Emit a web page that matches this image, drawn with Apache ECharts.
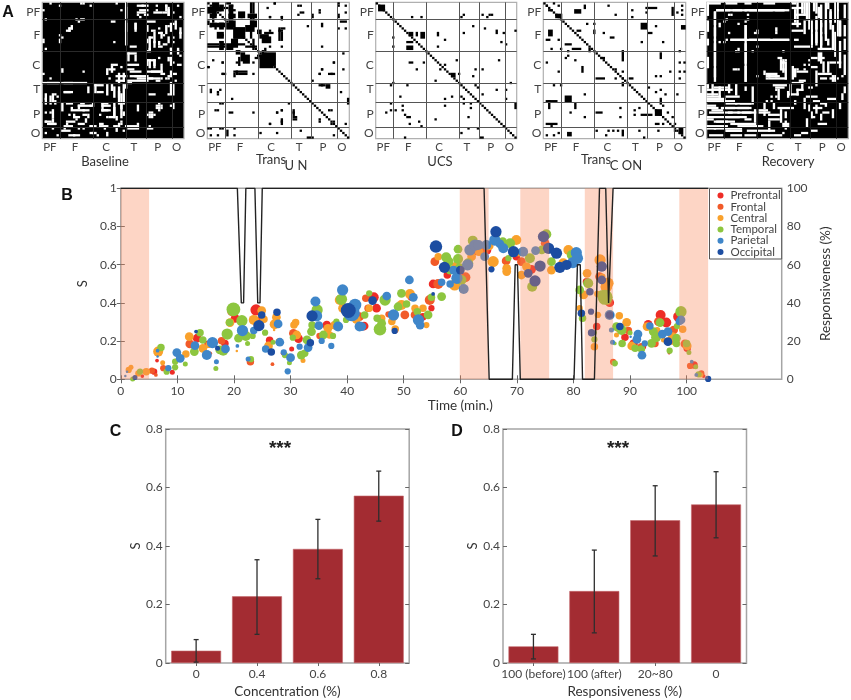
<!DOCTYPE html>
<html>
<head>
<meta charset="utf-8">
<script src="https://cdn.jsdelivr.net/npm/echarts@6/dist/echarts.min.js"></script>
<style>html,body{margin:0;padding:0;background:#fff}#main{width:851px;height:700px}</style>
</head>
<body>
<div id="main"></div>
<script>
// --- panel A: adjacency matrices, each entry is [rowFrom, rowTo, colFrom, colTo]
const baselineRuns = [[0,0,3,3],[1,1,7,7],[0,0,17,17],[1,1,20,20],[0,0,31,31],[2,7,35,35],[9,12,35,35],[1,1,42,42],[1,1,48,48],[1,1,52,52],[1,1,57,57],[3,3,41,44],[3,3,48,48],[4,4,51,52],[4,4,55,55],[3,3,33,33],[5,5,40,40],[5,5,43,44],[3,5,53,53],[6,6,58,58],[7,7,14,14],[7,7,16,17],[8,8,29,30],[11,11,11,12],[12,12,10,11],[15,15,8,8],[16,16,0,0],[17,17,30,30],[9,11,39,39],[10,12,44,44],[12,12,46,47],[11,11,49,49],[13,13,49,50],[10,10,53,53],[10,13,52,52],[11,13,58,58],[9,9,55,55],[14,14,51,51],[15,15,45,46],[16,17,44,44],[17,17,47,47],[18,18,51,52],[17,17,55,55],[19,19,37,39],[20,20,45,45],[19,19,49,50],[20,20,54,54],[21,21,57,57],[21,21,44,45],[22,22,36,39],[22,25,36,36],[23,25,39,39],[24,24,49,49],[23,23,58,58],[25,25,44,47],[25,27,44,44],[25,27,47,47],[24,25,53,53],[27,27,36,40],[27,27,50,50],[26,26,55,55],[28,28,33,33],[29,29,28,30],[27,27,29,31],[29,29,36,38],[30,30,37,41],[30,30,44,49],[31,31,50,51],[31,31,55,56],[32,32,31,35],[32,32,39,44],[33,33,40,46],[33,33,50,50],[33,33,52,52],[32,32,53,54],[34,34,31,34],[34,34,48,49],[34,34,56,56],[35,35,36,37],[36,40,55,55],[45,45,49,49],[46,46,48,48],[46,46,50,50],[47,47,49,49],[48,48,45,45],[49,49,44,44],[49,49,46,46],[50,50,45,45],[45,47,40,40],[36,44,34,34],[37,41,32,32],[44,49,33,33],[46,50,30,30],[54,54,35,40],[54,54,45,45],[55,55,44,46],[53,53,40,40],[35,35,0,6],[35,35,8,18],[39,39,9,12],[41,41,6,6],[40,44,1,1],[40,43,4,4],[44,47,8,8],[47,50,4,4],[45,45,15,20],[47,47,13,19],[45,45,25,28],[47,47,25,28],[50,50,13,15],[49,49,17,18],[53,53,2,5],[54,54,9,12],[53,53,15,17],[54,54,20,22],[54,54,24,27],[52,52,1,3],[56,56,8,11],[55,55,15,15],[58,58,13,15],[57,57,20,22],[57,58,27,27],[54,54,30,31],[53,53,33,33],[50,50,28,30]];

const transUnRuns = [[0,2,2,4],[1,3,5,6],[3,5,2,3],[2,2,7,8],[0,0,8,9],[1,1,10,10],[3,3,9,11],[5,6,9,11],[4,6,13,15],[0,4,19,19],[5,6,17,20],[5,7,19,19],[5,6,14,14],[0,0,28,28],[6,6,31,31],[6,6,26,26],[1,1,39,39],[4,4,39,39],[5,5,44,44],[3,3,47,47],[0,0,55,55],[5,5,55,55],[11,15,11,15],[9,11,8,10],[9,10,5,6],[8,10,18,20],[10,12,16,19],[12,13,21,22],[9,10,1,7],[18,18,0,4],[18,18,6,7],[18,18,10,15],[16,20,19,19],[14,15,22,25],[13,13,24,27],[11,16,30,30],[11,11,31,32],[19,19,31,31],[19,19,26,26],[22,27,23,28],[23,26,15,17],[26,26,12,12],[25,25,2,2],[26,26,6,6],[28,28,0,0],[31,31,6,7],[30,31,12,12],[31,31,13,16],[24,24,20,21],[23,23,21,22],[38,38,1,1],[38,38,5,5],[40,40,4,4],[42,42,10,10],[47,47,4,4],[44,44,6,6],[48,48,9,10],[48,48,19,19],[48,48,29,29],[47,47,31,31],[52,52,31,31],[53,53,26,26],[47,49,36,36],[50,50,36,37],[55,55,1,1],[55,55,6,6],[55,55,11,11],[58,58,1,1],[58,58,4,4],[56,58,8,8],[58,58,11,11],[57,57,22,22],[57,57,29,29],[56,56,39,39],[59,59,42,44],[58,58,53,53],[26,26,53,53],[29,29,48,48],[31,31,47,47],[31,31,51,53],[34,34,44,44],[36,36,48,48],[36,37,51,51],[47,47,52,52],[51,51,47,47],[52,52,53,53]];

const ucsRuns = [[1,3,1,3],[6,6,15,15],[6,6,19,19],[6,6,36,36],[5,5,37,37],[5,5,45,45],[6,6,47,47],[5,5,49,49],[5,5,48,48],[10,10,41,41],[11,11,46,46],[12,13,51,51],[13,13,54,54],[12,12,59,59],[13,13,37,37],[13,14,14,15],[13,14,17,17],[13,15,19,20],[13,14,26,26],[16,16,29,29],[19,19,26,26],[15,15,7,7],[19,19,7,7],[17,17,13,15],[19,20,13,15],[17,17,53,53],[18,18,55,55],[26,26,14,15],[29,29,17,17],[26,26,20,20],[25,25,34,34],[27,27,29,29],[29,29,27,27],[25,25,52,52],[29,29,42,42],[29,29,45,45],[34,34,25,25],[31,32,32,33],[32,32,41,41],[31,31,35,35],[36,36,42,42],[37,37,43,43],[35,35,7,7],[36,36,6,6],[36,36,13,13],[41,41,10,10],[40,40,45,45],[38,38,51,51],[38,38,55,55],[35,35,57,57],[42,42,55,55],[44,44,6,6],[47,47,6,6],[48,48,4,4],[47,47,8,8],[45,45,11,11],[47,47,11,11],[49,49,12,12],[50,50,13,14],[52,52,18,18],[54,54,19,19],[53,53,14,14],[51,51,25,25],[42,42,29,29],[41,41,32,32],[45,45,29,29],[41,41,36,36],[42,42,37,37],[44,44,37,37],[44,44,40,40],[46,46,40,40],[44,46,59,59],[50,50,39,39],[55,55,39,39],[55,55,43,43],[57,57,36,36],[59,59,12,12],[59,59,44,45]];

const transConRuns = [[1,1,1,1],[0,0,4,4],[1,1,6,6],[3,3,2,3],[5,6,5,7],[3,4,13,15],[1,2,17,17],[1,1,27,27],[5,5,30,30],[3,3,37,37],[6,6,37,37],[2,2,43,47],[4,4,43,43],[2,5,54,54],[1,1,58,58],[3,3,58,58],[5,5,58,58],[4,4,56,56],[9,9,18,18],[9,9,21,21],[12,13,21,21],[13,13,25,25],[12,12,14,15],[15,15,28,29],[17,17,41,41],[9,11,41,43],[13,13,44,45],[10,10,47,47],[17,17,50,50],[10,11,58,59],[12,14,2,3],[16,16,1,2],[16,16,6,6],[18,18,9,11],[20,20,3,3],[20,20,7,7],[21,21,10,10],[20,20,12,15],[23,23,10,10],[24,24,9,9],[25,25,13,13],[20,21,19,19],[26,26,1,1],[30,30,6,6],[28,30,16,16],[24,24,24,25],[21,25,33,33],[29,29,30,30],[30,30,33,33],[33,33,30,30],[33,33,33,33],[33,33,22,25],[22,24,49,49],[21,21,57,57],[26,26,59,59],[26,26,57,57],[30,30,57,57],[30,30,59,59],[33,33,57,57],[30,30,53,53],[32,32,49,49],[32,32,47,47],[36,36,4,4],[36,36,7,7],[35,36,33,33],[33,33,36,37],[37,37,44,44],[39,39,47,47],[38,38,49,49],[40,40,51,51],[40,40,56,56],[42,44,49,49],[43,43,1,5],[43,46,2,2],[41,43,9,11],[44,46,13,13],[40,40,17,17],[48,48,11,11],[50,50,17,17],[48,48,22,24],[46,46,32,32],[50,50,32,32],[47,47,38,38],[46,46,40,40],[49,49,38,38],[49,49,41,45],[47,49,47,49],[45,45,50,50],[48,48,52,52],[50,50,54,54],[53,53,47,48],[53,53,50,50],[53,53,55,55],[56,56,40,40],[56,56,48,48],[56,56,55,55],[55,57,57,58],[53,53,1,5],[54,54,3,3],[58,58,1,1],[58,58,4,4],[57,57,6,6],[57,58,10,11],[56,56,22,22],[56,56,27,27],[58,58,26,26],[56,56,29,29],[56,56,31,31],[56,58,33,33],[59,59,42,42]];

const recoveryRuns = [[0,0,0,5],[0,0,8,12],[0,0,16,18],[0,0,24,28],[0,0,36,37],[3,3,4,9],[3,3,11,16],[3,3,18,27],[3,3,29,34],[4,14,3,3],[16,32,3,3],[16,16,10,16],[16,16,18,26],[16,16,28,34],[10,34,16,16],[2,2,36,40],[5,5,37,41],[9,9,36,39],[0,4,40,40],[0,7,42,42],[0,3,45,45],[2,6,47,47],[0,2,51,51],[4,8,52,52],[0,3,55,55],[1,6,58,58],[8,12,44,44],[14,18,44,44],[8,18,46,46],[9,13,48,48],[15,18,48,48],[8,16,50,50],[10,20,53,53],[8,14,56,56],[10,14,58,58],[16,20,58,58],[12,12,36,40],[16,16,37,38],[19,19,37,44],[20,20,47,52],[22,25,47,47],[24,24,30,31],[25,30,32,32],[24,24,44,46],[28,28,44,46],[24,24,48,49],[26,30,49,49],[23,31,58,58],[26,26,52,56],[30,30,38,42],[29,32,37,37],[31,31,47,52],[33,33,48,50],[33,33,52,55],[30,36,46,46],[32,34,53,53],[34,34,39,41],[33,33,26,33],[31,31,25,29],[35,38,40,40],[36,40,35,35],[36,36,28,33],[37,37,43,44],[38,40,38,38],[41,41,42,46],[44,46,56,56],[42,42,51,54],[40,42,57,57],[43,43,45,47],[44,44,48,50],[45,48,46,46],[48,48,49,51],[47,50,53,53],[50,50,44,45],[37,37,3,8],[38,38,0,10],[41,41,0,5],[41,41,8,13],[43,43,0,11],[44,44,12,18],[46,46,0,4],[46,46,6,11],[46,46,13,17],[48,48,1,10],[48,48,13,20],[48,48,22,26],[50,50,0,13],[51,51,16,18],[51,51,26,30],[52,52,3,11],[54,54,0,8],[55,55,3,14],[56,56,8,14],[56,56,17,28],[54,54,13,23],[54,54,32,34],[57,57,32,32],[58,58,37,39],[25,25,33,33],[26,26,32,32],[29,29,38,38],[25,25,43,43],[27,27,41,41],[27,27,43,43],[29,29,41,41],[32,32,26,26],[32,32,29,29],[32,32,21,21],[29,29,11,12],[21,21,13,13],[19,19,21,21],[16,16,8,8],[17,17,5,5],[9,9,13,13],[9,9,5,5],[7,7,8,8],[5,5,10,10],[7,7,17,17],[13,13,20,20],[12,12,21,21],[13,13,29,29]];

const matrixSize = 60;
const regionNames = ["PF", "F", "C", "T", "P", "O"];
const regionBreaks = [7.5, 21.5, 35.5, 44, 55];
const xRegionCentres = [3.2, 13.8, 27, 38.8, 48.9, 56.9];
const yRegionCentres = [4.5, 14.4, 27.6, 38, 49.3, 57.4];

// --- panel B: [time, S, dot size]
const prefrontal = [[3.8,.017,3],[5.9,.04,5],[6.4,.098,3],[9.1,.037,4],[13.5,.215,7],[15.3,.185,5],[18.4,.188,6],[20.2,.319,7],[23.9,.363,9],[26.3,.204,6],[28.6,.136,3],[30.2,.159,4],[31.4,.213,7],[36.4,.284,7],[43,.279,7],[44.7,.429,8],[45.2,.372,7],[48.7,.253,3],[51.4,.433,7],[53.4,.328,6],[54.9,.372,5],[55.2,.499,7],[57.7,.546,6],[62.9,.672,7],[64.6,.677,8],[69.9,.642,6],[72.6,.576,7],[82.3,.511,6],[84.1,.276,6],[86.4,.401,7],[89.1,.22,6],[90.6,.185,7],[92.3,.171,5],[93.2,.288,7],[95.4,.337,8],[96.4,.297,8],[96.9,.136,2],[98.5,.328,8],[100.1,.162,6],[101.3,.075,6],[103,.017,3]];
const frontal = [[5.5,.045,5],[6.2,.023,3],[7.5,.058,5],[12.2,.185,7],[15.8,.136,3],[17.8,.202,6],[19.6,.354,7],[22.9,.092,6],[24.6,.311,6],[26.8,.079,3],[29.3,.122,3],[30.5,.241,7],[35.1,.227,5],[42.2,.328,7],[43.3,.424,6],[43.7,.372,6],[47.3,.34,5],[50.2,.337,7],[52,.337,7],[54.6,.415,8],[55.5,.616,7],[56.1,.499,8],[60.9,.534,8],[64.2,.674,7],[68.1,.62,7],[70.8,.616,7],[75,.712,7],[84.6,.538,7],[86.1,.407,6],[87,.091,5],[89.7,.255,6],[91.4,.162,4],[92,.171,6],[94.4,.188,6],[95,.302,7],[97.7,.258,7],[99.7,.185,7],[100.6,.07,5],[102.6,.031,5]];
const central = [[1.4,.049,5],[1.8,.063,4],[3.1,.031,5],[4.5,.04,6],[6.6,.145,8],[7.4,.087,4],[11.5,.133,6],[12.1,.223,7],[14.5,.162,7],[15.5,.18,5],[19.3,.297,7],[20.5,.148,2],[21.9,.241,6],[23.5,.311,8],[24.9,.36,7],[25.3,.314,6],[26.1,.175,7],[27.1,.258,2],[27.2,.288,8],[27.5,.325,7],[28,.197,6],[30.6,.284,6],[30.9,.297,6],[31.1,.232,7],[32.2,.098,4],[36.6,.267,7],[36.9,.232,6],[37.8,.284,7],[38.7,.415,8],[39.3,.372,8],[41.6,.314,7],[43.9,.372,6],[46.1,.319,6],[48.2,.325,6],[47.9,.302,6],[48.5,.264,6],[49.6,.389,8],[51.1,.447,8],[52,.372,6],[53.4,.372,6],[54,.284,5],[56.1,.642,6],[59,.494,9],[59.3,.59,8],[62,.642,7],[63.3,.668,7],[65.1,.698,7],[65.8,.616,9],[68.2,.581,7],[68.2,.564,7],[69.9,.729,8],[70.4,.663,6],[70.8,.546,7],[71.7,.59,7],[76.1,.572,7],[78.2,.607,8],[79.1,.677,8],[82.4,.555,7],[81.8,.442,7],[84.7,.625,8],[85.6,.511,5],[85.8,.485,9],[84.2,.447,5],[81.1,.372,5],[84.3,.337,5],[83.7,.171,6],[84.7,.625,9],[85.1,.538,5],[86.1,.503,9],[85.8,.485,9],[88.1,.333,6],[84.7,.337,2],[87.6,.232,4],[87.9,.267,6],[89.4,.298,7],[90.3,.175,7],[93,.276,7],[94.8,.258,5],[95.9,.206,4],[97.3,.197,5],[97.5,.223,7],[99.3,.262,6],[100.1,.175,7],[102.5,.023,4]];
const temporal = [[2.1,.002,4],[3.4,.04,5],[7.1,.166,6],[8.1,.04,5],[9.6,.063,5],[9.6,.092,5],[11.4,.08,4],[13,.145,7],[14,.244,6],[14.5,.206,6],[16.8,.056,4],[17.5,.154,7],[18.1,.15,8],[18.8,.237,9],[19.9,.366,11],[19.2,.297,6],[20.8,.215,7],[21.4,.307,9],[22.1,.227,8],[22.4,.188,4],[23,.105,5],[23.3,.227,5],[25.5,.244,5],[26.9,.194,4],[29,.127,5],[29.8,.087,4],[30.4,.218,5],[31.9,.127,7],[32.5,.136,6],[32.9,.206,7],[33.7,.25,7],[33.8,.284,6],[34.7,.363,9],[35.8,.232,7],[37.5,.227,5],[38.1,.302,5],[39,.419,9],[39.8,.311,5],[43.9,.45,5],[43.1,.337,6],[45.3,.319,6],[45.8,.262,10],[46.1,.293,7],[46.7,.415,9],[49,.38,7],[49.6,.45,7],[50.5,.394,6],[52.4,.354,6],[54.3,.337,7],[54.9,.429,6],[56.7,.433,7],[57.5,.639,8],[57.9,.616,8],[58.2,.572,7],[59.6,.681,7],[59.6,.63,8],[59.9,.581,8],[60.2,.52,8],[61.4,.607,8],[62.2,.726,8],[66.5,.764,6],[67.5,.721,7],[68.8,.712,8],[68.5,.634,5],[72.3,.634,8],[72.7,.485,8],[74.4,.677,7],[75.2,.759,8],[76.1,.616,7],[79.7,.651,8],[82.6,.503,8],[81.1,.468,7],[85,.447,6],[85.6,.424,9],[81.6,.319,6],[83.7,.244,4],[83.7,.209,5],[85.6,.429,12],[87.3,.188,3],[87.3,.084,5],[87.6,.276,7],[88.5,.258,8],[88.6,.188,6],[90,.244,4],[90.9,.162,6],[92,.159,6],[93.8,.188,7],[94.1,.25,7],[94.6,.22,8],[95.3,.297,7],[98.2,.215,7],[98.2,.188,6],[98.3,.279,5],[97,.15,5],[99,.354,9],[100,.188,6],[100.4,.14,4],[101.6,.066,4],[102.1,.026,5]];
const parietal = [[1.1,.04,2],[.8,.017,2],[6.5,.119,2],[6.5,.15,3],[8.4,.058,5],[9.9,.14,7],[10.5,.11,7],[13.1,.176,7],[16.2,.192,9],[15.2,.127,8],[16.9,.092,4],[18.5,.159,7],[20.6,.175,3],[21.5,.255,9],[22.5,.106,4],[23.5,.255,6],[25.6,.159,6],[27.8,.29,7],[28.1,.194,7],[28.8,.141,5],[29.5,.042,5],[30,.113,7],[31.6,.171,5],[33.1,.166,7],[34.4,.407,8],[34.6,.332,9],[35,.281,7],[35.5,.201,5],[37.2,.175,5],[38.4,.276,8],[39.2,.468,9],[40.8,.346,13],[41.4,.389,10],[42.2,.276,8],[42.6,.276,7],[47,.436,7],[48.2,.337,9],[51,.52,7],[51.7,.429,7],[52.6,.311,9],[52.9,.284,7],[56.7,.508,6],[58.2,.499,6],[58.8,.572,7],[59.4,.529,9],[60.6,.473,8],[61.3,.599,9],[61.7,.677,9],[62.6,.703,9],[63.2,.703,8],[64.3,.642,7],[64.6,.703,8],[66.1,.729,9],[67,.709,7],[67.6,.686,8],[71.1,.668,8],[73.3,.674,7],[79.9,.611,9],[80.5,.663,9],[80.7,.634,9],[85,.59,8],[86.4,.337,8],[86.7,.258,4],[86.9,.194,4],[90.1,.223,2],[91.4,.237,7],[91.2,.209,7],[92.1,.126,7],[92.6,.188,5],[93.5,.279,6],[95.7,.237,7],[96.7,.25,7],[99,.311,7],[98.7,.302,6],[100.9,.092,3],[101.7,.023,3]];
const occipital = [[2.5,.01,4],[13.3,.25,3],[17.1,.162,4],[24.4,.281,9],[24.9,.337,6],[26.6,.143,6],[27.6,.351,6],[33.5,.192,6],[33.8,.332,9],[40.2,.36,12],[44.5,.412,7],[48.4,.253,5],[55.2,.447,3],[55.7,.695,10],[57.2,.586,9],[60,.572,7],[65.5,.576,5],[66.3,.773,9],[69.4,.668,9],[73.2,.515,9],[72,.555,7],[74.1,.593,9],[74.7,.747,9],[75.6,.686,9],[77,.66,9],[77.6,.586,9],[78.8,.599,8],[82.9,.459,6],[81.4,.346,6],[83.1,.354,5],[83.2,.244,6],[86.4,.337,6],[85,.59,8],[85,.52,7],[88.2,.276,6],[96.7,.197,7],[103.8,.002,5]];

const responsiveness = [[0,100],[20.6,100],[21.3,40],[21.7,40],[22.1,100],[23.7,100],[24.2,40],[24.6,40],[25,100],[64.2,100],[65.1,0],[69.2,0],[69.7,60],[70.1,60],[70.6,0],[80.1,0],[80.7,60],[81.2,60],[81.6,0],[83.7,0],[84.6,100],[85.7,100],[86.2,40],[86.5,40],[87,100],[103.8,100]];
const stimulusBands = [[0,5],[59.9,65],[70.6,75.7],[82,87],[98.7,103.8]];
const timeTicks = [0,10,20,30,40,50,60,70,80,90,100];
const regions = ["Prefrontal","Frontal","Central","Temporal","Parietal","Occipital"];
const regionColors = ["#ee2c26","#f15a29","#f9a12c","#8dc63f","#3f86c9","#1c4da1"];
const regionPoints = [prefrontal,frontal,central,temporal,parietal,occipital];

// --- panels C and D
const concLabels = ["0","0.4","0.6","0.8"];
const concS = [.042,.228,.39,.572];
const concLow = [.003,.098,.288,.485];
const concHigh = [.08,.353,.491,.656];
const respLabels = ["100 (before)","100 (after)","20~80","0"];
const respS = [.057,.246,.488,.542];
const respLow = [.014,.103,.366,.428];
const respHigh = [.098,.386,.606,.654];

const font = "Lato";
const textColor = "#444";
const frameColor = "#a5a5a5";
const barColor = "#a32c32";
const dotScale = 1.25;

// rectangles as [colFrom, rowFrom, colTo, rowTo], so neighbouring cells leave no seam
function toRects(runs, mirror, diagonal) {
  const rects = [];
  runs.forEach(([r0, r1, c0, c1]) => {
    rects.push([c0, r0, c1 + 1, r1 + 1]);
    if (mirror) rects.push([r0, c0, r1 + 1, c1 + 1]);
  });
  if (diagonal) for (let i = 0; i < matrixSize; i++) rects.push([i, i, i + 1, i + 1]);
  return rects;
}

const matrices = [
  { left: 42.3, width: 141.7, bg: "#000", fg: "#fff", rects: toRects(baselineRuns, true, false), lines: "#2a2a2a" },
  { left: 207.3, width: 142, bg: "#fff", fg: "#000", rects: toRects(transUnRuns, true, true), lines: "#555" },
  { left: 375.7, width: 141, bg: "#fff", fg: "#000", rects: toRects(ucsRuns, false, true), lines: "#555" },
  { left: 543.3, width: 142.4, bg: "#fff", fg: "#000", rects: toRects(transConRuns, false, true), lines: "#555" },
  { left: 706.7, width: 141.6, bg: "#000", fg: "#fff", rects: toRects(recoveryRuns, true, false), lines: "#1a1a1a" }
];

const grids = [], xAxes = [], yAxes = [], series = [];

matrices.forEach((m, i) => {
  grids.push({ show: true, left: m.left, width: m.width, top: 2.3, height: 136.4, backgroundColor: m.bg, borderColor: "#b0b0b0", borderWidth: 1.2 });
  xAxes.push({
    type: "value", gridIndex: i, min: 0, max: matrixSize,
    splitLine: { show: false }, axisLine: { show: false }, axisTick: { show: false },
    axisLabel: { customValues: xRegionCentres, formatter: v => regionNames[xRegionCentres.indexOf(v)], color: textColor, fontFamily: font, fontSize: 11.5, margin: 3 }
  });
  yAxes.push({
    type: "value", gridIndex: i, min: 0, max: matrixSize, inverse: true,
    splitLine: { show: false }, axisLine: { show: false }, axisTick: { show: false },
    axisLabel: { customValues: yRegionCentres, formatter: v => regionNames[yRegionCentres.indexOf(v)], color: textColor, fontFamily: font, fontSize: 12, margin: 2 }
  });
  series.push({
    type: "custom", xAxisIndex: i, yAxisIndex: i, data: m.rects, encode: { x: [0, 2], y: [1, 3] }, silent: true,
    renderItem: (params, api) => {
      const a = api.coord([api.value(0), api.value(1)]);
      const b = api.coord([api.value(2), api.value(3)]);
      return { type: "rect", shape: { x: a[0], y: a[1], width: b[0] - a[0], height: b[1] - a[1] }, style: { fill: m.fg } };
    },
    markLine: {
      silent: true, symbol: "none", label: { show: false }, animation: false,
      lineStyle: { color: m.lines, width: 1, type: "solid" },
      data: regionBreaks.flatMap(v => [{ xAxis: v }, { yAxis: v }])
    }
  });
});

// panel B
const tickStyle = { show: true, inside: true, length: 4, lineStyle: { color: "#666" } };
grids.push({ show: true, left: 120.8, width: 660.9, top: 188.3, height: 191, borderColor: frameColor, borderWidth: 1.5, backgroundColor: "#fff" });
xAxes.push({
  type: "value", gridIndex: 5, min: 0, max: 116.8, splitLine: { show: false }, axisLine: { show: false },
  axisTick: Object.assign({ customValues: timeTicks }, tickStyle),
  axisLabel: { customValues: timeTicks, color: textColor, fontFamily: font, fontSize: 12, margin: 6 },
  name: "Time (min.)", nameLocation: "middle", nameGap: 16,
  nameTextStyle: { color: "#333", fontFamily: font, fontSize: 13.5, padding: [0, 0, 0, 18] }
});
xAxes.push({
  type: "value", gridIndex: 5, position: "top", min: 0, max: 116.8, splitLine: { show: false }, axisLine: { show: false },
  axisLabel: { show: false }, axisTick: Object.assign({ customValues: timeTicks }, tickStyle)
});
yAxes.push({
  type: "value", gridIndex: 5, min: 0, max: 1, interval: 0.2, splitLine: { show: false }, axisLine: { show: false }, axisTick: tickStyle,
  axisLabel: { color: textColor, fontFamily: font, fontSize: 12, margin: 4 },
  name: "S", nameLocation: "middle", nameGap: 16, nameTextStyle: { color: "#333", fontFamily: font, fontSize: 13 }
});
yAxes.push({
  type: "value", gridIndex: 5, position: "right", min: 0, max: 100, interval: 20, splitLine: { show: false }, axisLine: { show: false }, axisTick: tickStyle,
  axisLabel: { color: textColor, fontFamily: font, fontSize: 12, margin: 5 },
  name: "Responsiveness (%)", nameLocation: "middle", nameGap: 24, nameRotate: 90, nameTextStyle: { color: "#333", fontFamily: font, fontSize: 13.5 }
});
regions.forEach((name, i) => {
  series.push({
    type: "scatter", name, xAxisIndex: 5, yAxisIndex: 5, z: 2, data: regionPoints[i],
    symbolSize: d => d[2] * dotScale, itemStyle: { color: regionColors[i], opacity: 1 }, silent: true
  });
});
series.push({
  type: "line", xAxisIndex: 5, yAxisIndex: 5, z: 4, data: [], silent: true,
  markArea: {
    silent: true, z: 4, animation: false, itemStyle: { color: "rgba(248,135,90,0.35)" },
    data: stimulusBands.map(b => [{ xAxis: b[0] }, { xAxis: b[1] }])
  }
});
series.push({
  type: "line", xAxisIndex: 5, yAxisIndex: 6, z: 5, data: responsiveness, symbol: "none", silent: true,
  lineStyle: { color: "#222", width: 1.4 }
});

// panels C and D
function addBars(left, labels, values, low, high, xName) {
  const g = grids.length;
  grids.push({ show: true, left, width: 243.5, top: 429, height: 236.7, borderColor: frameColor, borderWidth: 1.5, backgroundColor: "#fff" });
  const xIndex = xAxes.length, yIndex = yAxes.length;
  xAxes.push({
    type: "category", gridIndex: g, data: labels, axisLine: { show: false },
    axisTick: { show: false },
    axisLabel: { interval: 0, color: textColor, fontFamily: font, fontSize: 12, margin: 5 },
    name: xName, nameLocation: "middle", nameGap: 22,
    nameTextStyle: { color: "#333", fontFamily: font, fontSize: 13.5 }
  });
  xAxes.push({
    type: "category", gridIndex: g, position: "top", data: labels, axisLine: { show: false }, axisLabel: { show: false },
    axisTick: { show: true, inside: true, length: 3, alignWithLabel: true, lineStyle: { color: "#666" } }
  });
  yAxes.push({
    type: "value", gridIndex: g, min: 0, max: 0.8, interval: 0.2, splitLine: { show: false }, axisLine: { show: false },
    axisTick: tickStyle, axisLabel: { color: textColor, fontFamily: font, fontSize: 12, margin: 3 },
    name: "S", nameLocation: "middle", nameGap: 14, nameTextStyle: { color: "#333", fontFamily: font, fontSize: 13 }
  });
  yAxes.push({
    type: "value", gridIndex: g, position: "right", min: 0, max: 0.8, interval: 0.2, splitLine: { show: false }, axisLine: { show: false },
    axisTick: tickStyle, axisLabel: { show: false }
  });
  series.push({
    type: "bar", xAxisIndex: xIndex, yAxisIndex: yIndex, data: values, barWidth: "82%", silent: true,
    itemStyle: { color: barColor, borderColor: "#c4686c", borderWidth: 0.6 }
  });
  series.push({
    type: "custom", xAxisIndex: xIndex, yAxisIndex: yIndex, z: 3, silent: true,
    data: labels.map((_, i) => [i, low[i], high[i]]), encode: { x: 0, y: [1, 2] },
    renderItem: (params, api) => {
      const a = api.coord([api.value(0), api.value(1)]);
      const b = api.coord([api.value(0), api.value(2)]);
      const style = { stroke: "#2e2e2e", lineWidth: 1.3, fill: null };
      return {
        type: "group",
        children: [
          { type: "line", shape: { x1: a[0], y1: a[1], x2: b[0], y2: b[1] }, style },
          { type: "line", shape: { x1: a[0] - 2.5, y1: a[1], x2: a[0] + 2.5, y2: a[1] }, style },
          { type: "line", shape: { x1: b[0] - 2.5, y1: b[1], x2: b[0] + 2.5, y2: b[1] }, style }
        ]
      };
    }
  });
}
addBars(165.7, concLabels, concS, concLow, concHigh, "Concentration (%)");
addBars(503, respLabels, respS, respLow, respHigh, "Responsiveness (%)");

function note(text, x, y, opts) {
  return {
    type: "text", x, y, z: 20, silent: true,
    style: Object.assign({ text, fill: "#333", font: "13px " + font, textAlign: "center", textVerticalAlign: "middle" }, opts)
  };
}
const letterFont = "bold 16px 'Liberation Sans'";
const labels = [
  note("A", 8, 13, { font: letterFont, fill: "#111" }),
  note("B", 67, 196, { font: letterFont, fill: "#111" }),
  note("C", 115.5, 432, { font: letterFont, fill: "#111" }),
  note("D", 457, 432, { font: letterFont, fill: "#111" }),
  note("Baseline", 105, 162),
  note("Trans", 271, 160),
  note("U N", 296, 166),
  note("UCS", 440, 162),
  note("Trans", 596, 160),
  note("C ON", 626, 166),
  note("Recovery", 788, 162),
  note("***", 280, 449, { font: "bold 19px 'Liberation Sans'", fill: "#222" }),
  note("***", 618, 449, { font: "bold 19px 'Liberation Sans'", fill: "#222" })
];

const chart = echarts.init(document.getElementById("main"), null, { renderer: "canvas" });
chart.setOption({
  animation: false,
  backgroundColor: "#fff",
  grid: grids,
  xAxis: xAxes,
  yAxis: yAxes,
  series,
  graphic: labels,
  legend: {
    data: regions, orient: "vertical", left: 709.5, top: 188.5, z: 10,
    icon: "circle", itemWidth: 6, itemHeight: 6, itemGap: -0.7,
    padding: [1, 1, 1, 8], backgroundColor: "#fff", borderColor: "#555", borderWidth: 1,
    selectedMode: false,
    textStyle: { color: "#444", fontFamily: font, fontSize: 11.5, lineHeight: 11, height: 11, padding: [0, 0, 0, 2] }
  }
});
</script>
</body>
</html>
